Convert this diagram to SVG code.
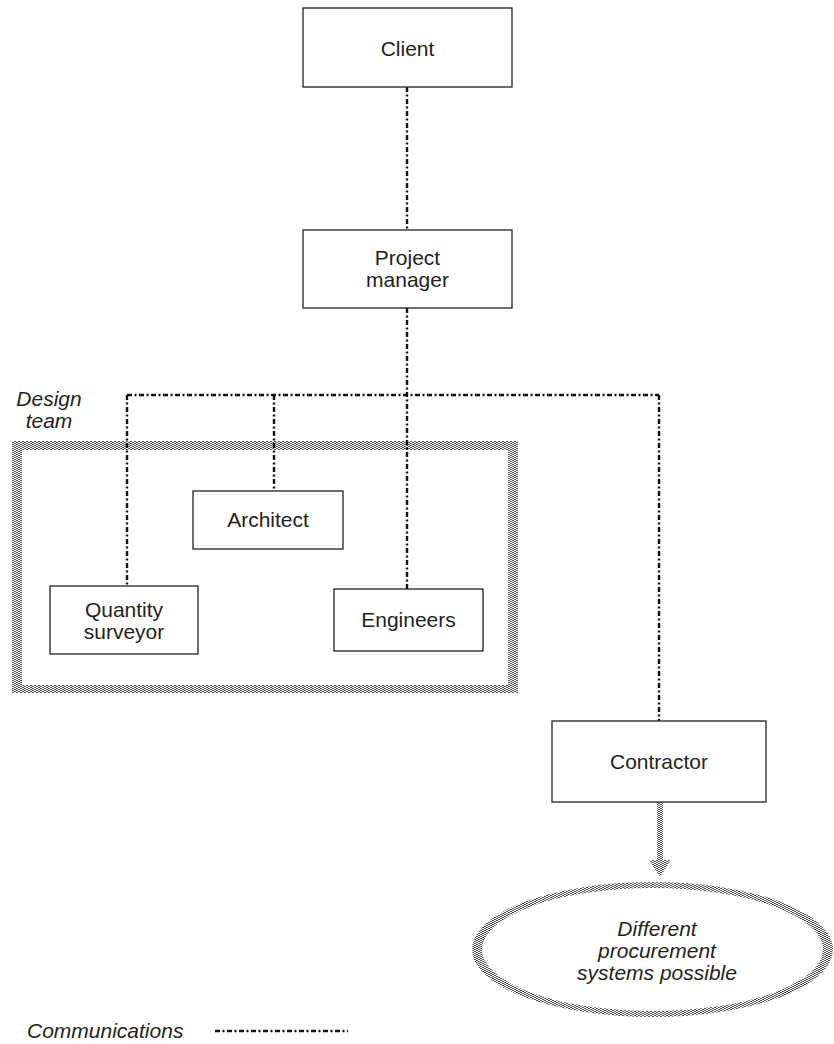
<svg xmlns="http://www.w3.org/2000/svg" width="834" height="1044" viewBox="0 0 834 1044">
  <defs>
    <!-- halftone dither used for the grouping border, the ellipse outline and the arrow -->
    <pattern id="dither" patternUnits="userSpaceOnUse" width="4" height="2">
      <rect x="0" y="0" width="2" height="1" fill="#555555"/>
      <rect x="2" y="1" width="2" height="1" fill="#555555"/>
    </pattern>
    <style>
      .box { fill: #ffffff; stroke: #231f20; stroke-width: 1.3; }
      .lbl { font-family: "Liberation Sans", Arial, sans-serif; font-size: 21px; fill: #231f20; text-anchor: middle; }
      .it { font-style: italic; }
      .comm { fill: none; stroke: #111111; stroke-width: 2.4; stroke-dasharray: 5 2.5 2 2.5; }
    </style>
  </defs>

  <rect width="834" height="1044" fill="#ffffff"/>

  <!-- design team grouping border -->
  <g id="design-team">
    <path d="M12 441 H518 V693 H12 Z M22 450 V685 H508 V450 Z" fill="url(#dither)" fill-rule="evenodd"/>
    <text class="lbl it" x="49" y="406">Design</text>
    <text class="lbl it" x="49" y="428">team</text>
  </g>

  <!-- communication lines -->
  <g id="connectors">
    <path class="comm" d="M407 87 V230"/>
    <path class="comm" d="M407 308 V589"/>
    <path class="comm" d="M127 395 H659"/>
    <path class="comm" d="M127 395 V586"/>
    <path class="comm" d="M274 395 V491"/>
    <path class="comm" d="M659 395 V721"/>
    <!-- contractor to procurement systems -->
    <rect x="657" y="802" width="6" height="58" fill="url(#dither)"/>
    <polygon points="649,860 671,860 660,877" fill="url(#dither)"/>
  </g>

  <g id="client">
    <rect class="box" x="303" y="8" width="209" height="79"/>
    <text class="lbl" x="407.5" y="56">Client</text>
  </g>

  <g id="project-manager">
    <rect class="box" x="303" y="230" width="209" height="78"/>
    <text class="lbl" x="407.5" y="265">Project</text>
    <text class="lbl" x="407.5" y="287">manager</text>
  </g>

  <g id="architect">
    <rect class="box" x="193" y="491" width="150" height="58"/>
    <text class="lbl" x="268" y="527">Architect</text>
  </g>

  <g id="quantity-surveyor">
    <rect class="box" x="50" y="586" width="148" height="68"/>
    <text class="lbl" x="124" y="617">Quantity</text>
    <text class="lbl" x="124" y="639">surveyor</text>
  </g>

  <g id="engineers">
    <rect class="box" x="334" y="589" width="149" height="62"/>
    <text class="lbl" x="408.5" y="627">Engineers</text>
  </g>

  <g id="contractor">
    <rect class="box" x="552" y="721" width="214" height="81"/>
    <text class="lbl" x="659" y="769">Contractor</text>
  </g>

  <g id="procurement">
    <!-- dithered ring: wider at the sides than at top and bottom -->
    <path fill="url(#dither)" fill-rule="evenodd"
          d="M472 949.5 A180.5 67.5 0 1 0 833 949.5 A180.5 67.5 0 1 0 472 949.5 Z
             M482 949.5 A170.5 61.5 0 1 0 823 949.5 A170.5 61.5 0 1 0 482 949.5 Z"/>
    <text class="lbl it" x="657" y="936">Different</text>
    <text class="lbl it" x="657" y="958">procurement</text>
    <text class="lbl it" x="657" y="980">systems possible</text>
  </g>

  <!-- legend -->
  <g id="legend">
    <text class="lbl it" x="27" y="1038" style="text-anchor:start">Communications</text>
    <path class="comm" d="M215 1031 H348"/>
  </g>
</svg>
